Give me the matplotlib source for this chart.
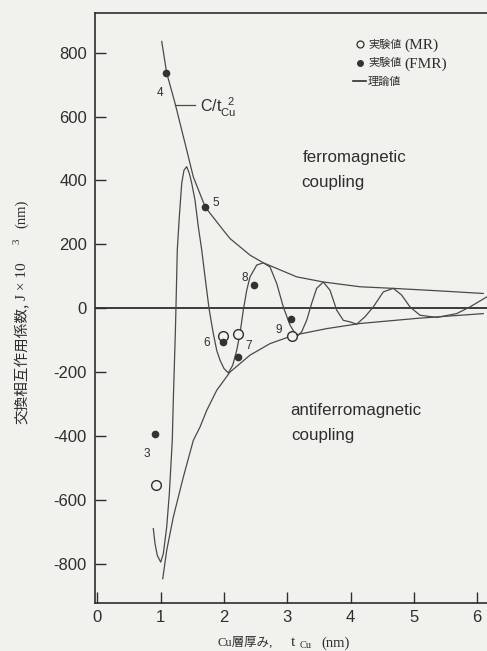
import matplotlib
matplotlib.use("Agg")
import matplotlib.pyplot as plt
from matplotlib.lines import Line2D

plt.rcParams['axes.unicode_minus'] = False
plt.rcParams['mathtext.fontset'] = 'custom'
plt.rcParams['mathtext.rm'] = 'Liberation Sans'
plt.rcParams['mathtext.it'] = 'Liberation Sans'

# ---- data ----
# theoretical oscillating coupling curve (t_Cu in nm, J x 10^3)
osc_t = [0.883, 0.910, 0.946, 1.000, 1.041, 1.095, 1.136, 1.183, 1.199, 1.215,
         1.231, 1.242, 1.262, 1.294, 1.332, 1.368, 1.411, 1.452, 1.490, 1.542,
         1.594, 1.648, 1.700, 1.763, 1.795, 1.831, 1.885, 1.937, 2.000, 2.068,
         2.137, 2.201, 2.253, 2.305, 2.359, 2.411, 2.517, 2.621, 2.727, 2.833,
         2.937, 3.043, 3.122, 3.174, 3.227, 3.306, 3.385, 3.464, 3.569, 3.675,
         3.780, 3.885, 3.991, 4.096, 4.227, 4.359, 4.517, 4.675, 4.807, 4.938,
         5.096, 5.360, 5.676, 5.886, 6.150]
osc_J = [-690, -737, -774, -795, -769, -685, -581, -414, -288, -184,
         -79, 9, 182, 286, 391, 432, 443, 422, 391, 338,
         255, 182, 98, 0, -38, -79, -132, -163, -189, -203,
         -179, -132, -79, -6, 56, 98, 135, 142, 129, 77,
         4, -53, -79, -85, -74, -38, 15, 62, 82, 56,
         -6, -38, -43, -50, -27, 4, 51, 62, 41, 4,
         -22, -29, -17, 4, 35]

# C/t^2 envelope (upper and lower)
up_t = [1.016, 1.095, 1.226, 1.411, 1.515, 1.705, 1.989, 2.095, 2.411, 2.621,
        3.149, 3.569, 4.149, 4.675, 5.412, 6.096]
up_J = [835, 736, 642, 495, 411, 316, 244, 218, 166, 142,
        98, 82, 67, 62, 54, 46]
lo_t = [1.032, 1.095, 1.199, 1.357, 1.515, 1.621, 1.727, 1.885, 2.095, 2.411,
        2.727, 3.095, 3.622, 4.149, 5.044, 6.096]
lo_J = [-847, -758, -654, -529, -414, -372, -320, -257, -200, -147,
        -111, -85, -64, -48, -32, -17]

# experimental values
mr_t = [0.926, 1.989, 2.226, 3.069]
mr_J = [-553, -88, -82, -88]
fmr_t = [0.910, 1.084, 1.705, 1.989, 2.226, 2.474, 3.058]
fmr_J = [-395, 736, 316, -106, -153, 74, -35]

# sample labels and where they are written
sample_ids = ['3', '4', '5', '6', '7', '8', '9']
sample_pos = [(0.779, -455), (0.989, 673), (1.874, 330), (1.727, -109),
              (2.395, -118), (2.332, 93), (2.858, -67)]

x_ticks = [0, 1, 2, 3, 4, 5, 6]
y_ticks = [-800, -600, -400, -200, 0, 200, 400, 600, 800]

legend_labels = ['実験値', '実験値', '理論値']
legend_suffix = ['(MR)', '(FMR)']

# ---- drawing ----
bg = '#f1f1ee'
ink = '#2e2e2e'
line_c = '#4a4a4a'
serif_cjk = ['Liberation Serif', 'Noto Sans CJK JP']

W, H = 487, 651


def fx(px):
    return px / W


def fy(py):
    return 1 - py / H


fig = plt.figure(figsize=(W / 100, H / 100), dpi=100, facecolor=bg)
ax = fig.add_axes([95 / W, 1 - 603 / H, 1 - 95 / W, (603 - 12.7) / H])
ax.set_facecolor(bg)

ax.set_xlim(-0.038, 6.155)
ax.set_ylim(-923, 925)

ax.axhline(0, color=ink, lw=1.3, zorder=2)
ax.plot(up_t, up_J, color=line_c, lw=0.9, zorder=3)
ax.plot(lo_t, lo_J, color=line_c, lw=0.9, zorder=3)
ax.plot(osc_t, osc_J, color=line_c, lw=0.9, zorder=3)

ax.plot(mr_t, mr_J, 'o', ms=7, mfc=bg, mec=ink, mew=1.0, zorder=5)
ax.plot(fmr_t, fmr_J, 'o', ms=4.5, color='#333333', zorder=6)

for s, (tx, ty) in zip(sample_ids, sample_pos):
    ax.text(tx, ty, s, fontsize=8.5, family='Liberation Sans', color=ink,
            ha='center', va='center')

# C/t^2 annotation
ax.plot([1.229, 1.545], [636, 636], color=line_c, lw=0.9)
ax.text(1.621, 627, r'C/t$_{\mathrm{Cu}}^{\;\;\,2}$', fontsize=11.5,
        family='Liberation Sans', color=ink, ha='left', va='center')

txt_kw = dict(fontsize=12.2, family='Liberation Sans', color=ink, ha='left', va='center')
ax.text(3.25, 473, 'ferromagnetic', **txt_kw)
ax.text(3.22, 392, 'coupling', **txt_kw)
ax.text(3.043, -320, 'antiferromagnetic', **txt_kw)
ax.text(3.06, -398, 'coupling', **txt_kw)

ax.spines['right'].set_visible(False)
for side in ['left', 'top', 'bottom']:
    ax.spines[side].set_linewidth(1.2)
    ax.spines[side].set_color(ink)

ax.set_xticks(x_ticks)
ax.set_yticks(y_ticks)
ax.set_xticklabels([str(v) for v in x_ticks])
ax.set_yticklabels([str(v) for v in y_ticks])
ax.tick_params(direction='in', length=8, width=1.0, color=ink,
               labelsize=12, labelcolor=ink)
ax.tick_params(axis='y', pad=5.8)
ax.tick_params(axis='x', pad=5)
for lab in ax.get_xticklabels() + ax.get_yticklabels():
    lab.set_family('Liberation Sans')

# legend
handles = [
    Line2D([], [], marker='o', ls='none', ms=5, mfc=bg, mec=ink, mew=0.9),
    Line2D([], [], marker='o', ls='none', ms=4, color='#333333'),
    Line2D([], [], color=ink, lw=1.2),
]
leg = ax.legend(handles, legend_labels, loc='upper left',
                bbox_to_anchor=(fx(353), fy(40)), bbox_transform=fig.transFigure,
                frameon=False, handlelength=1.2, handletextpad=0.15,
                labelspacing=0.75, borderpad=0, borderaxespad=0,
                prop={'family': 'Noto Sans CJK JP', 'size': 8})
for t in leg.get_texts():
    t.set_color(ink)
fig.text(fx(404), fy(45), legend_suffix[0], fontsize=11, family='Liberation Serif',
         color=ink, ha='left', va='center')
fig.text(fx(404), fy(64), legend_suffix[1], fontsize=11, family='Liberation Serif',
         color=ink, ha='left', va='center')

# y axis label (pieces, rotated)
ylab_kw = dict(rotation=90, rotation_mode='anchor', ha='left', va='center', color=ink)
fig.text(fx(22), fy(424), '交換相互作用係数,', fontsize=10.5,
         family=['Noto Sans CJK JP'], **ylab_kw)
fig.text(fx(22), fy(300), 'J × 10', fontsize=11, family='Liberation Serif', **ylab_kw)
fig.text(fx(17), fy(244), '3', fontsize=8, family='Liberation Serif', **ylab_kw)
fig.text(fx(22), fy(228), '(nm)', fontsize=10.5, family='Liberation Serif', **ylab_kw)

# x axis label (pieces)
xlab_kw = dict(ha='left', va='center', color=ink)
fig.text(fx(218), fy(643), 'Cu層厚み,', fontsize=9, family=serif_cjk, **xlab_kw)
fig.text(fx(291), fy(642), 't', fontsize=11, family='Liberation Serif', **xlab_kw)
fig.text(fx(300), fy(646), 'Cu', fontsize=7.5, family='Liberation Serif', **xlab_kw)
fig.text(fx(321), fy(643), '(nm)', fontsize=10.5, family='Liberation Serif', **xlab_kw)

fig.savefig('out.png', dpi=100, facecolor=bg)
